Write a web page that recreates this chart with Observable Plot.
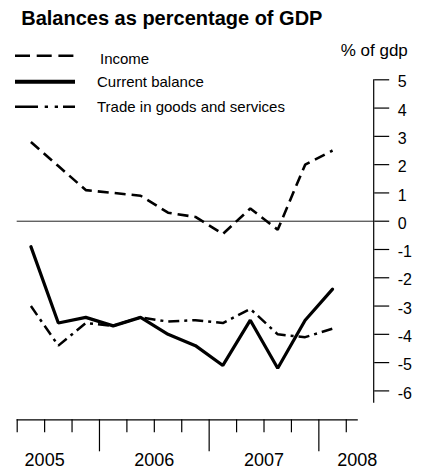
<!DOCTYPE html>
<html><head><meta charset="utf-8">
<script src="https://cdn.jsdelivr.net/npm/d3@7"></script>
<script src="https://cdn.jsdelivr.net/npm/@observablehq/plot@0.6"></script>
<style>
body{margin:0;background:#fff;font-family:"Liberation Sans",Arial,sans-serif}
#wrap{position:relative;width:428px;height:473px;overflow:hidden}
#wrap > svg{position:absolute;left:0;top:0}
</style></head><body>
<div id="wrap"></div>
<script>
// Quarterly categories (Q2 2005 .. Q1 2008)
const quarters = ["2005Q2","2005Q3","2005Q4","2006Q1","2006Q2","2006Q3","2006Q4","2007Q1","2007Q2","2007Q3","2007Q4","2008Q1"];
const income  = [2.8, 1.95, 1.1, 1.0, 0.9, 0.3, 0.15, -0.45, 0.45, -0.3, 2.0, 2.5];
const current = [-0.9, -3.6, -3.4, -3.7, -3.4, -4.0, -4.4, -5.1, -3.5, -5.2, -3.5, -2.4];
const trade   = [-3.0, -4.4, -3.6, -3.7, -3.4, -3.55, -3.5, -3.6, -3.1, -4.0, -4.1, -3.8];
const yTicks = [-6,-5,-4,-3,-2,-1,0,1,2,3,4,5];
const years = ["2005","2006","2007","2008"];
const yearLabelPos = [1, 5, 9, 12.4];      // in quarter-index units
const minorTicks = [0,1,2,4,5,6,8,9,10,12]; // quarter boundaries
const majorTicks = [3,7,11];                // year boundaries
const titleText = "Balances as percentage of GDP";
const unitText = "% of gdp";
const seriesNames = ["Income","Current balance","Trade in goods and services"];

const rows = quarters.map((q, i) => ({q, x: i + 0.5, income: income[i], current: current[i], trade: trade[i]}));

const font = "Liberation Sans, Arial, sans-serif";
const noText = () => "";
const chart = Plot.plot({
  width: 428, height: 473,
  marginLeft: 16.7, marginRight: 54.8, marginTop: 79.3, marginBottom: 53.7,
  x: {domain: [0, 13], axis: null},
  y: {domain: [-6, 5], range: [390.4, 79.3], axis: null},
  style: {fontFamily: font, background: "white", color: "black", overflow: "visible"},
  marks: [
    Plot.ruleY([0], {stroke: "#222", strokeWidth: 1}),
    Plot.frame({anchor: "right", insetBottom: 17.6, strokeWidth: 1.2}),
    Plot.frame({anchor: "bottom", insetRight: 16.5, strokeWidth: 1.2}),
    Plot.axisY(yTicks, {anchor: "right", tickSize: 15, tickFormat: noText, label: null, strokeWidth: 1.2}),
    Plot.axisY(yTicks, {anchor: "right", tickSize: 0, tickPadding: 24, fontSize: 16, dy: 2.5, tickFormat: d => String(d), label: null}),
    Plot.axisX(minorTicks, {anchor: "bottom", tickSize: 13, tickFormat: noText, label: null, strokeWidth: 1.2}),
    Plot.axisX(majorTicks, {anchor: "bottom", tickSize: 32, tickFormat: noText, label: null, strokeWidth: 1.2}),
    Plot.text(years, {x: (d, i) => yearLabelPos[i], frameAnchor: "bottom", lineAnchor: "bottom", dy: 46.4, fontSize: 18, text: d => d}),
    Plot.text([unitText], {frameAnchor: "top-right", textAnchor: "start", lineAnchor: "bottom", dx: -33, dy: -24.3, fontSize: 17, text: d => d}),
    Plot.text([titleText], {frameAnchor: "top-left", textAnchor: "start", lineAnchor: "bottom", dx: 4, dy: -55.3, fontSize: 20, fontWeight: "bold", text: d => d}),
    Plot.line(rows, {x: "x", y: "income", stroke: "black", strokeWidth: 2.6, strokeDasharray: "11,6", strokeLinecap: "butt", strokeLinejoin: "miter"}),
    Plot.line(rows, {x: "x", y: "trade", stroke: "black", strokeWidth: 2.5, strokeDasharray: "11,5,3,5", strokeLinecap: "butt", strokeLinejoin: "miter"}),
    Plot.line(rows, {x: "x", y: "current", stroke: "black", strokeWidth: 3.2, strokeLinejoin: "miter"})
  ]
});
document.getElementById("wrap").appendChild(chart);

// Legend (added on top of the plot area, upper-left)
const ns = "http://www.w3.org/2000/svg";
const leg = document.createElementNS(ns, "svg");
leg.setAttribute("width", 300); leg.setAttribute("height", 120);
leg.style.position = "absolute"; leg.style.left = "0px"; leg.style.top = "0px";
const legendItems = [
  {name: seriesNames[0], y: 55.7, dash: "15,6.7", w: 2.6, tx: 100, ty: 64},
  {name: seriesNames[1], y: 81.7, dash: null, w: 4, tx: 97, ty: 86.7},
  {name: seriesNames[2], y: 106.7, dash: "23,6.7,3.3,6.7,3.3,5,12", w: 2.6, tx: 97, ty: 111.7}
];
for (const it of legendItems) {
  const l = document.createElementNS(ns, "line");
  l.setAttribute("x1", 15); l.setAttribute("x2", 75);
  l.setAttribute("y1", it.y); l.setAttribute("y2", it.y);
  l.setAttribute("stroke", "black"); l.setAttribute("stroke-width", it.w);
  if (it.dash) l.setAttribute("stroke-dasharray", it.dash);
  leg.appendChild(l);
  const t = document.createElementNS(ns, "text");
  t.setAttribute("x", it.tx); t.setAttribute("y", it.ty);
  t.setAttribute("font-family", font); t.setAttribute("font-size", 15);
  t.textContent = it.name;
  leg.appendChild(t);
}
document.getElementById("wrap").appendChild(leg);
</script>
</body></html>
